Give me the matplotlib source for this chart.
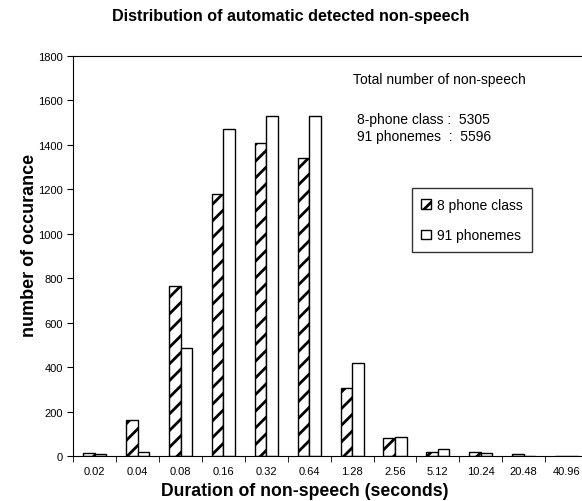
import numpy as np
import matplotlib
matplotlib.use("Agg")
import matplotlib.pyplot as plt

durations = ["0.02", "0.04", "0.08", "0.16", "0.32", "0.64", "1.28",
             "2.56", "5.12", "10.24", "20.48", "40.96"]
phone_class8 = [15, 160, 765, 1180, 1410, 1340, 305, 80, 20, 20, 8, 0]
phonemes91 = [8, 20, 485, 1470, 1530, 1530, 420, 85, 30, 15, 0, 0]

plt.rcParams['font.family'] = ['Liberation Sans', 'DejaVu Sans']
plt.rcParams['hatch.linewidth'] = 2.0

fig = plt.figure(figsize=(5.82, 5.02), dpi=100)
ax = fig.add_axes([73.3 / 582, 45 / 502, (588 - 73.3) / 582, 400 / 502])

x = np.arange(len(durations))
w = 0.27
ax.bar(x - w / 2, phone_class8, w, color="white", edgecolor="black",
       hatch="//", linewidth=1.0, label="8 phone class")
ax.bar(x + w / 2, phonemes91, w, color="white", edgecolor="black",
       linewidth=1.0, label="91 phonemes")

ax.set_xlim(-0.5, len(durations) - 0.5)
ax.set_ylim(0, 1800)
ax.set_yticks(range(0, 1801, 200))
ax.set_xticks(x)
ax.set_xticklabels(durations, fontsize=8)
ax.set_xticks(np.arange(-0.5, len(durations), 1), minor=True)
ax.tick_params(axis="x", which="major", length=0, pad=7)
ax.tick_params(axis="x", which="minor", length=4, direction="out")
ax.tick_params(axis="y", labelsize=8, length=4, direction="out")
ax.spines["right"].set_visible(False)

fig.text(0.5, 1 - 17 / 502, "Distribution of automatic detected non-speech",
         ha="center", va="center", fontsize=11.6, fontweight="bold")
fig.text(30 / 582, 1 - 245 / 502, "number of occurance", rotation=90,
         ha="center", va="center", fontsize=13, fontweight="bold")
fig.text(305 / 582, 1 - 492 / 502, "Duration of non-speech (seconds)",
         ha="center", va="center", fontsize=12.7, fontweight="bold")

fig.text(353 / 582, 1 - 80 / 502, "Total number of non-speech",
         ha="left", va="center", fontsize=10)
fig.text(357 / 582, 1 - 120 / 502, "8-phone class :  5305",
         ha="left", va="center", fontsize=10)
fig.text(357 / 582, 1 - 137 / 502, "91 phonemes  :  5596",
         ha="left", va="center", fontsize=10)

leg = ax.legend(loc="upper left", bbox_to_anchor=(411.7 / 582, 1 - 189 / 502),
                bbox_transform=fig.transFigure, fontsize=10, frameon=True,
                fancybox=False, edgecolor="black", handlelength=0.7,
                handleheight=0.7, handletextpad=0.4, labelspacing=1.2,
                borderpad=0.7, borderaxespad=0)
leg.get_frame().set_linewidth(1.0)

fig.savefig("out.png", dpi=100)
